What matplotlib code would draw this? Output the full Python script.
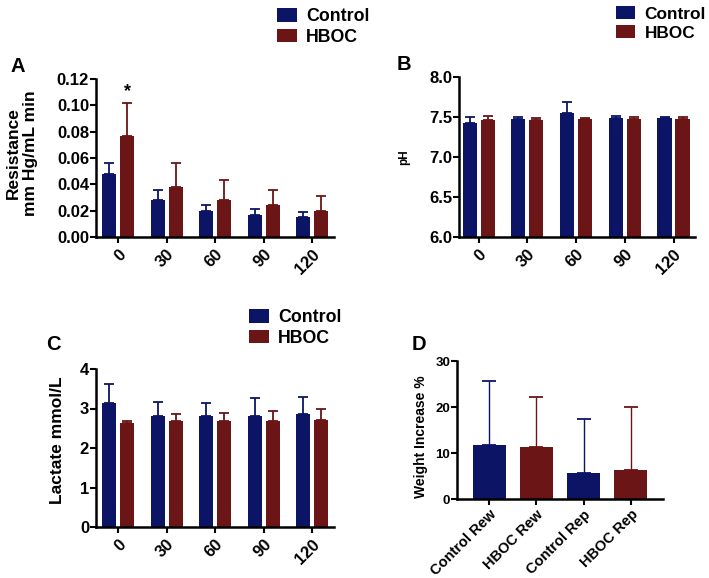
import numpy as np
import matplotlib
matplotlib.use("Agg")
import matplotlib.pyplot as plt
from matplotlib.ticker import FormatStrFormatter

plt.rcParams['font.family'] = ['Liberation Sans', 'DejaVu Sans']
plt.rcParams['font.weight'] = 'bold'
plt.rcParams['axes.labelweight'] = 'bold'

# data
times = ['0', '30', '60', '90', '120']

res_ctrl = [0.048, 0.028, 0.020, 0.017, 0.015]
res_ctrl_err = [0.008, 0.008, 0.004, 0.004, 0.004]
res_hboc = [0.077, 0.038, 0.028, 0.024, 0.020]
res_hboc_err = [0.025, 0.018, 0.015, 0.012, 0.011]

ph_ctrl = [7.43, 7.47, 7.55, 7.49, 7.49]
ph_ctrl_err = [0.07, 0.03, 0.14, 0.02, 0.01]
ph_hboc = [7.46, 7.46, 7.47, 7.47, 7.47]
ph_hboc_err = [0.05, 0.03, 0.02, 0.03, 0.03]

lac_ctrl = [3.13, 2.82, 2.82, 2.81, 2.85]
lac_ctrl_err = [0.49, 0.35, 0.33, 0.46, 0.43]
lac_hboc = [2.64, 2.69, 2.69, 2.69, 2.71]
lac_hboc_err = [0.05, 0.17, 0.19, 0.24, 0.29]

wt_labels = ['Control Rew', 'HBOC Rew', 'Control Rep', 'HBOC Rep']
wt_vals = [11.8, 11.2, 5.6, 6.2]
wt_err = [13.9, 11.0, 11.9, 13.7]

NAVY = '#0c1565'
MAROON = '#6b1516'
W, H = 709, 578


def px_axes(fig, left, right, top, bottom):
    return fig.add_axes([left / W, 1 - bottom / H, (right - left) / W, (bottom - top) / H])


def style(ax):
    for s in ['top', 'right']:
        ax.spines[s].set_visible(False)
    for s in ['left', 'bottom']:
        ax.spines[s].set_linewidth(1.8)
    ax.tick_params(direction='out', length=4, width=1.5, pad=1, labelsize=12)
    ax.tick_params(axis='x', pad=3)


def grouped(ax, ctrl, ctrl_err, hboc, hboc_err, xlim):
    x = np.arange(len(times))
    off, w = 0.185, 0.29
    b1 = ax.bar(x - off, ctrl, w, color=NAVY, label='Control')
    b2 = ax.bar(x + off, hboc, w, color=MAROON, label='HBOC')
    ax.errorbar(x - off, ctrl, yerr=[np.zeros(len(x)), ctrl_err], fmt='none',
                ecolor=NAVY, elinewidth=1.3, capsize=3.6, capthick=1.3)
    ax.errorbar(x + off, hboc, yerr=[np.zeros(len(x)), hboc_err], fmt='none',
                ecolor=MAROON, elinewidth=1.3, capsize=3.6, capthick=1.3)
    ax.set_xticks(x)
    ax.set_xticklabels(times, rotation=45, ha='right', rotation_mode='anchor')
    ax.set_xlim(*xlim)
    style(ax)
    return b1, b2


def legend(ax, handles, x, y, size=12.8):
    ax.legend(handles=handles, loc='upper left', bbox_to_anchor=(x / W, 1 - y / H),
              bbox_transform=ax.figure.transFigure, frameon=False, fontsize=size,
              borderpad=0, borderaxespad=0, handlelength=1.1, handleheight=0.8,
              handletextpad=0.55, labelspacing=0.2)


fig = plt.figure(figsize=(W / 100, H / 100), dpi=100)

# A
axA = px_axes(fig, 96, 334, 79, 237)
hA = grouped(axA, res_ctrl, res_ctrl_err, res_hboc, res_hboc_err, (-0.453, 4.444))
axA.set_ylim(0, 0.12)
axA.set_yticks(np.arange(0, 0.121, 0.02))
axA.yaxis.set_major_formatter(FormatStrFormatter('%.2f'))
axA.set_ylabel('Resistance\nmm Hg/mL min', fontsize=12.5, linespacing=1.15)
axA.yaxis.set_label_coords(-0.245, 0.53)
axA.text(0.185, res_hboc[0] + res_hboc_err[0] + 0.002, '*', ha='center', va='bottom',
         fontsize=13)
legend(axA, hA, 277, 8)

# B
axB = px_axes(fig, 459, 695, 77, 237)
hB = grouped(axB, ph_ctrl, ph_ctrl_err, ph_hboc, ph_hboc_err, (-0.405, 4.441))
axB.set_ylim(6.0, 8.0)
axB.set_yticks([6.0, 6.5, 7.0, 7.5, 8.0])
axB.yaxis.set_major_formatter(FormatStrFormatter('%.1f'))
axB.set_ylabel('pH', fontsize=8.5)
axB.yaxis.set_label_coords(-0.205, 0.5)
legend(axB, hB, 616, 6, size=12.4)

# C
axC = px_axes(fig, 96, 334, 369, 527)
hC = grouped(axC, lac_ctrl, lac_ctrl_err, lac_hboc, lac_hboc_err, (-0.453, 4.444))
axC.set_ylim(0, 4)
axC.set_yticks([0, 1, 2, 3, 4])
axC.set_ylabel('Lactate mmol/L', fontsize=12.5)
axC.yaxis.set_label_coords(-0.13, 0.55)
legend(axC, hC, 249, 309)

# D
axD = px_axes(fig, 457, 663, 361, 499)
xd = np.arange(len(wt_labels))
axD.bar(xd, wt_vals, 0.70, color=[NAVY, MAROON, NAVY, MAROON])
for i in range(len(xd)):
    c = NAVY if i % 2 == 0 else MAROON
    axD.errorbar(xd[i], wt_vals[i], yerr=[[0], [wt_err[i]]], fmt='none', ecolor=c,
                 elinewidth=1.0, capsize=5.3, capthick=1.3)
axD.set_xticks(xd)
axD.set_xticklabels(wt_labels, rotation=45, ha='right', rotation_mode='anchor')
axD.set_xlim(-0.68, 3.68)
axD.set_ylim(0, 30)
axD.set_yticks([0, 10, 20, 30])
style(axD)
axD.tick_params(axis='y', labelsize=9.5)
axD.tick_params(axis='x', labelsize=10.5, pad=2)
axD.set_ylabel('Weight Increase %', fontsize=10)
axD.yaxis.set_label_coords(-0.14, 0.45)

# panel letters
for lbl, x, y in [('A', 18, 66), ('B', 404, 65), ('C', 53, 344), ('D', 419, 344)]:
    fig.text(x / W, 1 - y / H, lbl, ha='center', va='center', fontsize=14.5)

fig.savefig('out.png', dpi=100)
